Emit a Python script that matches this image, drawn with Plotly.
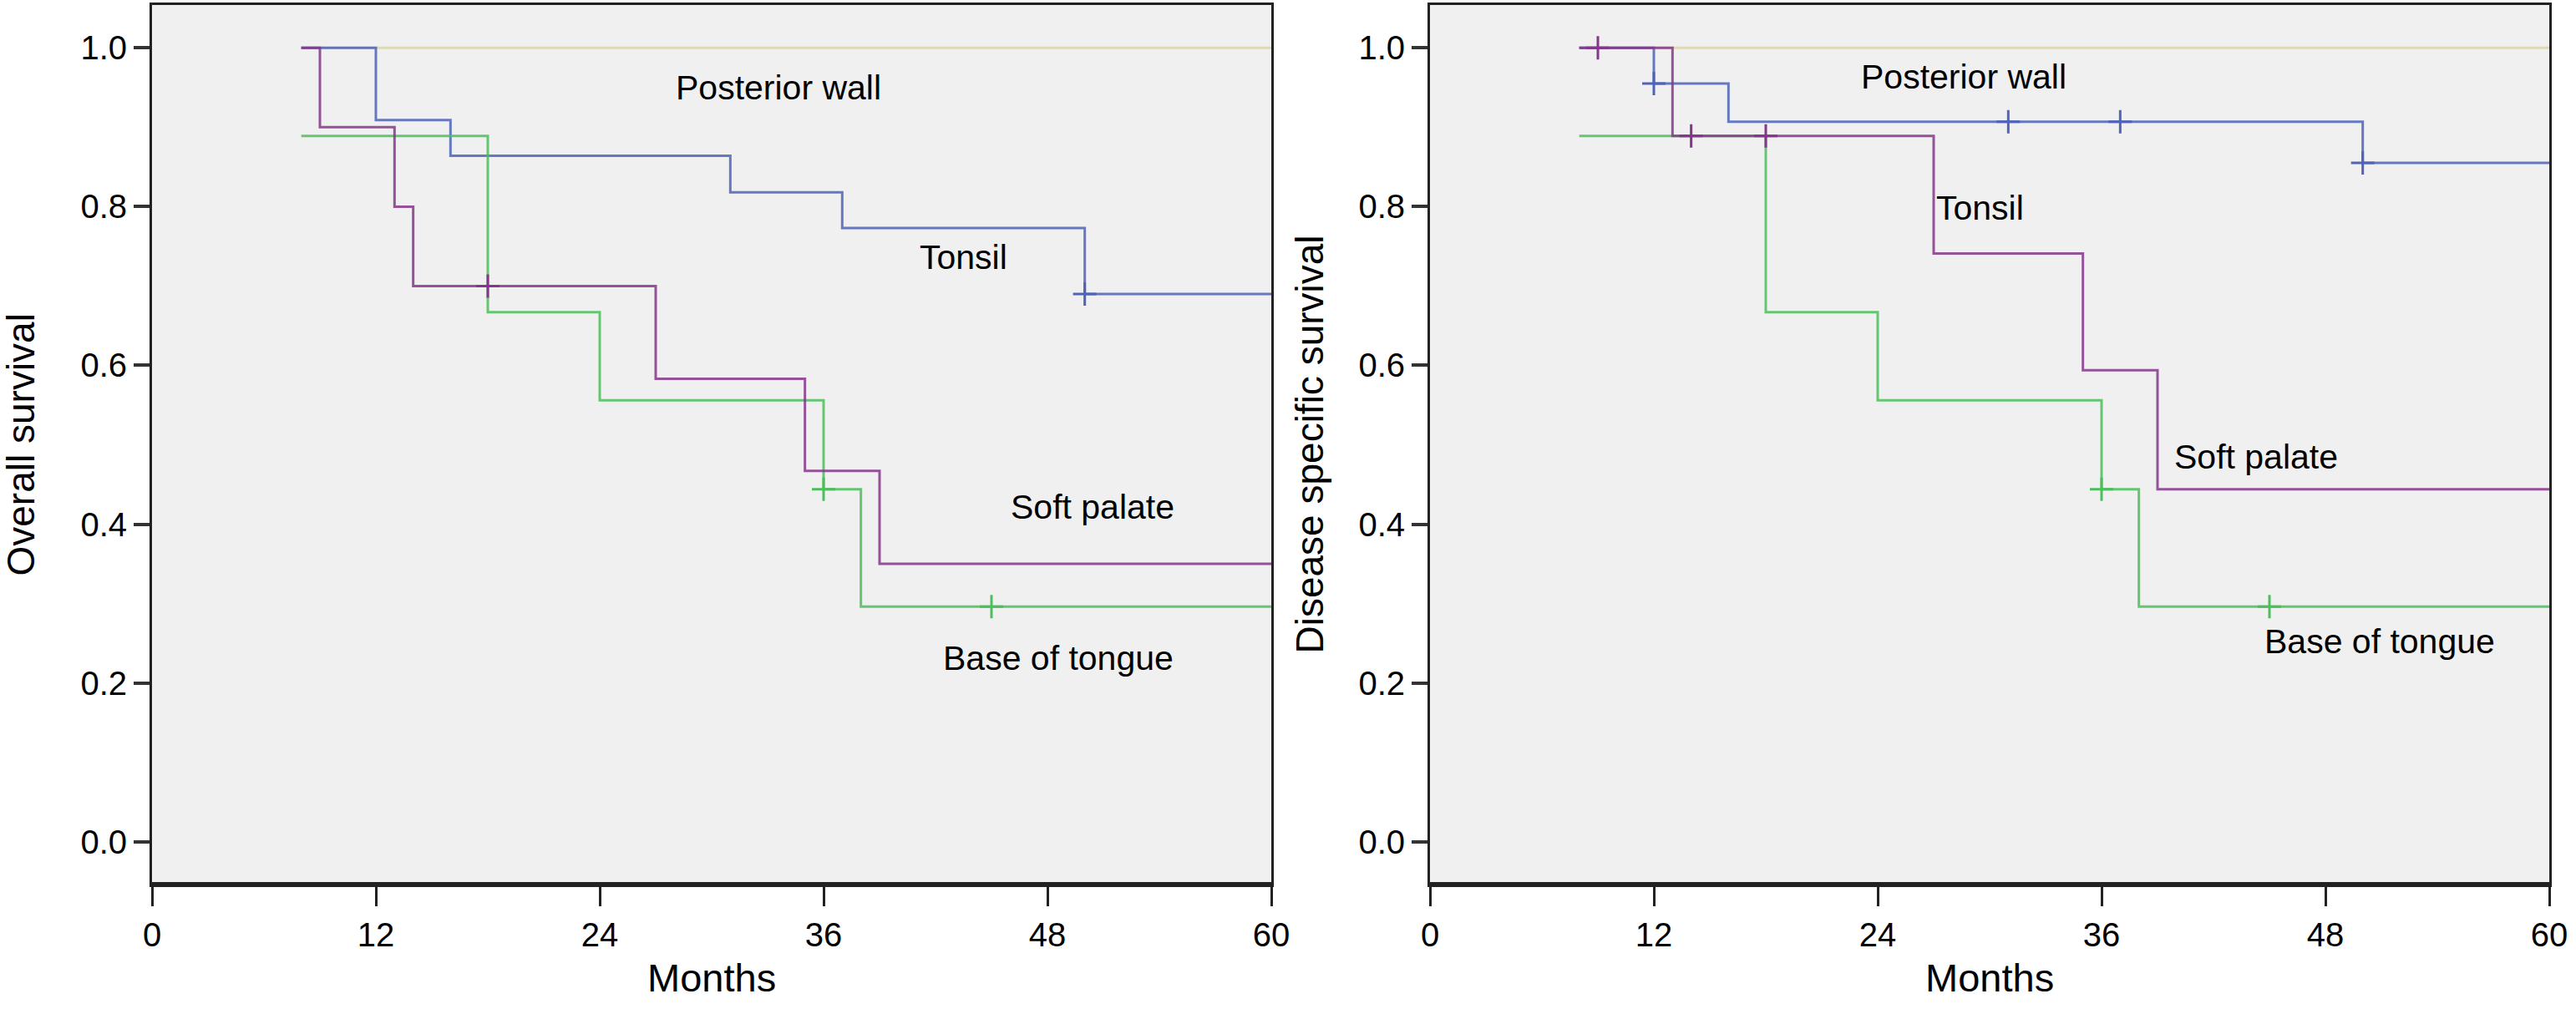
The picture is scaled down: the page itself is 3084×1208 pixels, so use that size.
import plotly.graph_objects as go

# --- data (months, survival proportion) ---
months_ticks = [0, 12, 24, 36, 48, 60]
surv_ticks = [0.0, 0.2, 0.4, 0.6, 0.8, 1.0]

# Overall survival (left panel)
os_posterior_t = [8, 60]
os_posterior_s = [1.0, 1.0]
os_tonsil_t = [8, 12, 16, 31, 37, 50, 60]
os_tonsil_s = [1.0, 0.909, 0.864, 0.818, 0.773, 0.690, 0.690]
os_tonsil_cens_t = [50]
os_tonsil_cens_s = [0.690]
os_soft_t = [8, 9, 13, 14, 27, 35, 39, 60]
os_soft_s = [1.0, 0.9, 0.8, 0.7, 0.583, 0.467, 0.35, 0.35]
os_soft_cens_t = [18]
os_soft_cens_s = [0.7]
os_base_t = [8, 18, 24, 36, 38, 60]
os_base_s = [0.889, 0.667, 0.556, 0.444, 0.296, 0.296]
os_base_cens_t = [36, 45]
os_base_cens_s = [0.444, 0.296]

# Disease specific survival (right panel)
dss_posterior_t = [8, 60]
dss_posterior_s = [1.0, 1.0]
dss_tonsil_t = [8, 12, 16, 50, 60]
dss_tonsil_s = [1.0, 0.955, 0.907, 0.855, 0.855]
dss_tonsil_cens_t = [12, 31, 37, 50]
dss_tonsil_cens_s = [0.955, 0.907, 0.907, 0.855]
dss_soft_t = [8, 13, 27, 35, 39, 60]
dss_soft_s = [1.0, 0.889, 0.741, 0.594, 0.444, 0.444]
dss_soft_cens_t = [9, 14, 18]
dss_soft_cens_s = [1.0, 0.889, 0.889]
dss_base_t = [8, 18, 24, 36, 38, 60]
dss_base_s = [0.889, 0.667, 0.556, 0.444, 0.296, 0.296]
dss_base_cens_t = [36, 45]
dss_base_cens_s = [0.444, 0.296]

# curve labels: (text, x, y)
os_labels = [("Posterior wall", 33.6, 0.950), ("Tonsil", 43.5, 0.736),
             ("Soft palate", 50.4, 0.422), ("Base of tongue", 48.6, 0.231)]
dss_labels = [("Posterior wall", 28.6, 0.963), ("Tonsil", 29.5, 0.798),
              ("Soft palate", 44.3, 0.485), ("Base of tongue", 50.9, 0.252)]

BEIGE = "#dcd6ad"
BLUE = "#4f64b8"
PURPLE = "#84378a"
GREEN = "#4cbf5c"
FONT = "Liberation Sans, Arial, sans-serif"

W, H = 3084, 1208
fig = go.Figure()


def add_curve(t, s, color, xa, ya):
    fig.add_trace(go.Scatter(x=t, y=s, mode="lines", line_shape="hv",
                             line=dict(color=color, width=3), opacity=0.85,
                             xaxis=xa, yaxis=ya, showlegend=False, hoverinfo="skip"))


def add_censor(t, s, color, xa, ya):
    fig.add_trace(go.Scatter(x=t, y=s, mode="markers",
                             marker=dict(symbol="cross-thin", size=20, line=dict(color=color, width=3)),
                             xaxis=xa, yaxis=ya, showlegend=False, hoverinfo="skip"))


panels = [
    ("x", "y", [(os_posterior_t, os_posterior_s, BEIGE, None, None),
                (os_tonsil_t, os_tonsil_s, BLUE, os_tonsil_cens_t, os_tonsil_cens_s),
                (os_base_t, os_base_s, GREEN, os_base_cens_t, os_base_cens_s),
                (os_soft_t, os_soft_s, PURPLE, os_soft_cens_t, os_soft_cens_s)], os_labels),
    ("x2", "y2", [(dss_posterior_t, dss_posterior_s, BEIGE, None, None),
                  (dss_tonsil_t, dss_tonsil_s, BLUE, dss_tonsil_cens_t, dss_tonsil_cens_s),
                  (dss_base_t, dss_base_s, GREEN, dss_base_cens_t, dss_base_cens_s),
                  (dss_soft_t, dss_soft_s, PURPLE, dss_soft_cens_t, dss_soft_cens_s)], dss_labels),
]

for xa, ya, curves, labels in panels:
    for t, s, color, ct, cs in curves:
        add_curve(t, s, color, xa, ya)
        if ct:
            add_censor(ct, cs, color, xa, ya)
    for text, lx, ly in labels:
        fig.add_annotation(x=lx, y=ly, xref=xa, yref=ya, text=text, showarrow=False,
                           xanchor="center", yanchor="middle",
                           font=dict(family=FONT, size=41, color="black"))

# plot areas in pixels
left_dom = [182 / W, 1522 / W]
right_dom = [1712 / W, 3052 / W]
y_dom = [1 - 1059 / H, 1 - 6 / H]

xaxis_style = dict(range=[0, 60], tickvals=months_ticks, ticks="outside", ticklen=23,
                   tickwidth=3, tickcolor="#222", showgrid=False, zeroline=False,
                   showline=True, linecolor="#222", linewidth=3, mirror=True,
                   automargin=False,
                   tickfont=dict(family=FONT, size=40, color="black"))
yaxis_style = dict(range=[-0.054, 1.054], tickvals=surv_ticks, tickformat=".1f",
                   ticks="outside", ticklen=19, tickwidth=4, tickcolor="#333",
                   showgrid=False, zeroline=False, showline=True, linecolor="#222",
                   linewidth=3, mirror=True, domain=y_dom, automargin=False,
                   tickfont=dict(family=FONT, size=40, color="black"))

fig.update_layout(
    template="none",
    width=W, height=H,
    margin=dict(l=0, r=0, t=0, b=0),
    paper_bgcolor="white",
    plot_bgcolor="#f0f0f0",
    xaxis=dict(xaxis_style, domain=left_dom, anchor="y"),
    yaxis=dict(yaxis_style, anchor="x"),
    xaxis2=dict(xaxis_style, domain=right_dom, anchor="y2"),
    yaxis2=dict(yaxis_style, anchor="x2"),
)

# heavier bottom axis line, as in the reference
for xa, ya in [("x", "y"), ("x2", "y2")]:
    fig.add_shape(type="line", xref=xa + " domain", yref=ya + " domain",
                  x0=0, x1=1, y0=0, y1=0, line=dict(color="#222", width=6))

# axis titles
y_mid = (y_dom[0] + y_dom[1]) / 2
for dom in (left_dom, right_dom):
    fig.add_annotation(x=sum(dom) / 2, y=1 - 1170 / H, xref="paper", yref="paper",
                       xanchor="center", yanchor="middle",
                       text="Months", showarrow=False,
                       font=dict(family=FONT, size=47, color="black"))
fig.add_annotation(x=25 / W, y=y_mid, xref="paper", yref="paper", textangle=-90,
                   xanchor="center", yanchor="middle",
                   text="Overall survival", showarrow=False,
                   font=dict(family=FONT, size=46, color="black"))
fig.add_annotation(x=1568 / W, y=y_mid, xref="paper", yref="paper", textangle=-90,
                   xanchor="center", yanchor="middle",
                   text="Disease specific survival", showarrow=False,
                   font=dict(family=FONT, size=46, color="black"))

# drop the browser's default body margin so the figure sits at the page corner
fig.write_html("out.html", config={"displayModeBar": False},
               post_script="document.body.style.margin='0px';")
